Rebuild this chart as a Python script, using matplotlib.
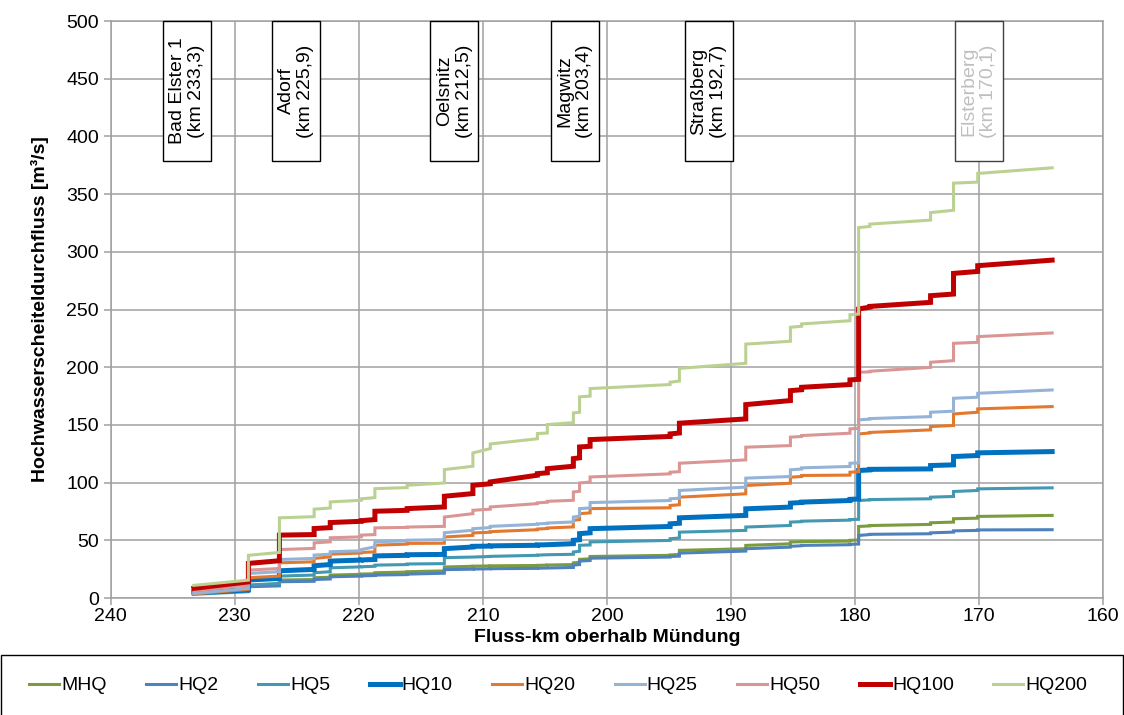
import matplotlib
matplotlib.use("Agg")
import matplotlib.pyplot as plt
from matplotlib.patches import Rectangle

plt.rcParams["font.family"] = ["Liberation Sans", "DejaVu Sans"]

# Fluss-km where each step segment starts (downstream direction), and end of data
KM_STEPS = [233.3, 228.9, 226.4, 223.6, 222.3, 219.8, 218.7, 216.1, 213.1, 210.8,
            209.4, 205.6, 204.8, 202.7, 202.2, 201.35, 194.9, 194.15, 188.8, 185.2,
            184.3, 180.4, 179.7, 178.8, 173.9, 172.05, 170.1]
KM_END = 164.1

# discharge at start / end of each segment [m3/s]
MHQ_START = [5, 11, 15.6, 17.6, 19.9, 20.8, 21.9, 22.8, 26.9, 27.6, 27.9, 28.3, 28.6, 30.5,
             33.5, 36, 37.3, 41.3, 45.6, 48.5, 48.9, 50, 62, 62.8, 65.2, 68.7, 70.7]
MHQ_END = [8, 11.5, 16, 18, 20.5, 21, 22.5, 23.5, 27.5, 27.8, 28.2, 28.5, 29, 31,
           34, 37, 37.8, 42.7, 47, 48.8, 49.3, 50.3, 62.5, 63.8, 65.8, 69.2, 71.6]

HQ2_START = [4, 9.8, 14.1, 16, 18.4, 19.2, 19.9, 20.7, 24.6, 25.1, 25.4, 25.8, 26, 28.5,
             32, 34.5, 36, 38.9, 42.7, 44.8, 45.6, 46.5, 54.2, 55.2, 56.5, 58.2, 59]
HQ2_END = [6.5, 10.5, 14.5, 16.5, 19, 19.5, 20.3, 21.5, 25, 25.3, 25.7, 26, 26.5, 29,
           32.5, 35.5, 36.3, 40.7, 44.1, 45.3, 46.2, 46.8, 55, 55.7, 57.1, 58.6, 59.2]

HQ5_START = [3.2, 11.2, 19, 21.9, 26.2, 27.1, 28.5, 29.5, 35, 35.5, 36.1, 37.2, 37.5, 39.9,
             45.7, 48.6, 51.4, 57.1, 61.5, 65.8, 66.6, 68, 84.5, 85.3, 87.4, 92.3, 94.6]
HQ5_END = [5.5, 12.7, 19.9, 22.8, 27, 27.5, 29, 29.8, 35.5, 36, 37, 37.5, 37.9, 40.5,
           46, 49.9, 52, 58.6, 62.9, 66.2, 67.5, 68.2, 85, 86, 88, 93.2, 95.5]

HQ10_START = [4.6, 15.6, 23.6, 28, 32, 33, 36.5, 37.5, 42.8, 44.8, 45.2, 46, 46.2, 50,
              55.8, 60.1, 64.3, 69.5, 77.3, 82.2, 83.1, 85.5, 110.5, 111.5, 114.8, 122.6, 125.8]
HQ10_END = [7, 17, 24.8, 29, 32.9, 33.4, 37, 37.8, 44.2, 45, 45.7, 46.2, 47.1, 50.5,
            56.5, 62, 64.8, 71.6, 78.8, 82.8, 84.5, 85.8, 111, 111.9, 115.4, 123.5, 126.9]

HQ20_START = [3.5, 17.6, 30.5, 34.3, 38, 39.5, 45.8, 47.3, 52.9, 56.4, 57.5, 59.8, 60.7, 67.3,
              73.1, 77.5, 80.2, 87.4, 97.5, 104.7, 106.2, 109, 142.2, 143.5, 148.6, 159.5, 163.9]
HQ20_END = [7.5, 19, 31.4, 35.7, 39, 40, 46.7, 47.5, 54.3, 57, 59.2, 60.2, 61.6, 68,
            73.8, 78.2, 80.8, 90.3, 99.5, 105.3, 106.5, 109.5, 143, 145.7, 149.5, 161, 165.9]

HQ25_START = [4, 21.3, 33.4, 37.2, 40.1, 42, 48.7, 50.1, 56.6, 60.1, 62.1, 64.3, 65, 70.2,
              77.5, 82.7, 86, 93.2, 103.9, 111.1, 112.8, 116.8, 154.4, 155.5, 161, 173.1, 177.4]
HQ25_END = [8.4, 22.8, 34.3, 38, 40.9, 44.4, 49.6, 50.6, 58.7, 61, 63.9, 64.6, 65.9, 71,
            78, 84.5, 86.5, 96.1, 105.3, 111.8, 114, 117, 155, 157.2, 161.9, 174, 180.3]

HQ50_START = [6.3, 24.2, 42, 47.8, 52.2, 54.5, 60.8, 61.5, 70.2, 76, 78.9, 82.5, 83.8, 91.9,
              99.7, 104.9, 109, 116.8, 130.7, 139.4, 140.8, 146.6, 195.6, 196.5, 204.3, 220.7, 226.5]
HQ50_END = [11.2, 25.6, 43, 48.7, 53, 55, 61.2, 62.1, 73.1, 77, 81.8, 83, 84.7, 92.5,
            100.5, 107.6, 109.5, 119.7, 132.1, 140, 142.8, 147, 196, 199.9, 205.7, 221.6, 229.7]

HQ100_START = [8.4, 30, 54.5, 60.2, 65.4, 67, 75.2, 77.5, 88.2, 97.7, 100.6, 107.8, 112.1, 120.8,
               130.9, 137.3, 142.2, 151.5, 167.6, 179.7, 182.6, 189, 250.5, 252.7, 262, 281.3, 288]
HQ100_END = [14, 32.3, 55, 61, 66.5, 68, 76, 78.9, 90.5, 99, 106.4, 108.5, 114.2, 121.5,
             131.5, 140, 143, 155.2, 171.1, 180.5, 185, 189.5, 252, 256.2, 263.4, 283, 292.8]

HQ200_START = [11, 37, 69.5, 77, 83.3, 86, 94.8, 97.7, 111.3, 125.7, 133.5, 142.5, 150.3, 160.4,
               174.3, 181.5, 187, 199, 220, 234.6, 237.5, 245.5, 321, 324, 334, 359.5, 367.9]
HQ200_END = [15.5, 39.5, 70.5, 78, 84.7, 87, 95.7, 99.7, 114.2, 129.5, 138, 143, 152, 161,
             175, 185, 188, 203.4, 222.5, 235.5, 240.3, 246, 322, 327.5, 336, 360.4, 372.8]

SERIES_NAMES = ["MHQ", "HQ2", "HQ5", "HQ10", "HQ20", "HQ25", "HQ50", "HQ100", "HQ200"]
SERIES_START = [MHQ_START, HQ2_START, HQ5_START, HQ10_START, HQ20_START,
                HQ25_START, HQ50_START, HQ100_START, HQ200_START]
SERIES_END = [MHQ_END, HQ2_END, HQ5_END, HQ10_END, HQ20_END,
              HQ25_END, HQ50_END, HQ100_END, HQ200_END]

GAUGE_NAMES = ["Bad Elster 1", "Adorf", "Oelsnitz", "Magwitz", "Straßberg", "Elsterberg"]
GAUGE_KM = ["233,3", "225,9", "212,5", "203,4", "192,7", "170,1"]

X_TICKS = [240, 230, 220, 210, 200, 190, 180, 170, 160]
Y_TICKS = [0, 50, 100, 150, 200, 250, 300, 350, 400, 450, 500]


def step_line(starts, ends):
    km_next = KM_STEPS[1:] + [KM_END]
    xs, ys = [], []
    for k0, k1, q0, q1 in zip(KM_STEPS, km_next, starts, ends):
        xs += [k0, k1]
        ys += [q0, q1]
    return xs, ys


def main():
    colors = ["#7A9C3E", "#4F81BD", "#4398B2", "#0070C0", "#E2792F",
              "#95B3D7", "#D99694", "#C00000", "#BBD192"]
    widths = [2.2, 2.2, 2.2, 3.6, 2.2, 2.2, 2.2, 3.6, 2.2]
    grid_gray = "#a0a0a0"

    fig = plt.figure(figsize=(11.24, 7.15), dpi=100)
    ax = fig.add_axes([0.0985, 0.1636, 0.8828, 0.807])

    lines = []
    for name, st, en, c, lw in zip(SERIES_NAMES, SERIES_START, SERIES_END, colors, widths):
        xs, ys = step_line(st, en)
        (ln,) = ax.plot(xs, ys, color=c, lw=lw, label=name,
                        solid_joinstyle="miter", zorder=3)
        lines.append(ln)

    # gauge boxes
    box_x = [233.85, 225.05, 212.3, 202.6, 191.8, 170.0]
    box_w = 3.87
    box_bottom = 378.7
    for i, (name, km, x) in enumerate(zip(GAUGE_NAMES, GAUGE_KM, box_x)):
        last = i == len(GAUGE_NAMES) - 1
        ax.add_patch(Rectangle((x - box_w / 2, box_bottom), box_w, 500 - box_bottom,
                               facecolor="white",
                               edgecolor="#404040" if last else "black",
                               lw=1.0, zorder=5, clip_on=False))
        ax.text(x, (500 + box_bottom) / 2, f"{name}\n(km {km})", rotation=90,
                ha="center", va="center", multialignment="center", fontsize=14,
                color="#bfbfbf" if last else "black", zorder=6)

    ax.set_xlim(240, 160)
    ax.set_ylim(0, 500)
    ax.set_xticks(X_TICKS)
    ax.set_yticks(Y_TICKS)
    ax.grid(True, color=grid_gray, lw=1.1)
    ax.set_axisbelow(True)
    for side in ax.spines.values():
        side.set_color(grid_gray)
        side.set_linewidth(1.1)
    ax.tick_params(axis="both", labelsize=14, color=grid_gray, length=5, width=1.1)
    ax.tick_params(axis="x", pad=2)

    ax.set_xlabel("Fluss-km oberhalb Mündung", fontsize=14, fontweight="bold", labelpad=3)
    ax.set_ylabel("Hochwasserscheiteldurchfluss [m³/s]", fontsize=14,
                  fontweight="bold", labelpad=12)

    # legend frame across the full width
    fig.add_artist(Rectangle((0.001, -0.01), 0.998, 0.094, transform=fig.transFigure,
                             facecolor="white", edgecolor="black", lw=1.0))
    fig.legend(handles=lines, loc="center left", ncol=9,
               bbox_to_anchor=(0.026, 0.041), fontsize=14,
               handlelength=1.55, handletextpad=0.1, columnspacing=2.03,
               borderaxespad=0, borderpad=0, frameon=False)

    fig.savefig("out.png", dpi=100)
    plt.close(fig)


if __name__ == "__main__":
    main()
